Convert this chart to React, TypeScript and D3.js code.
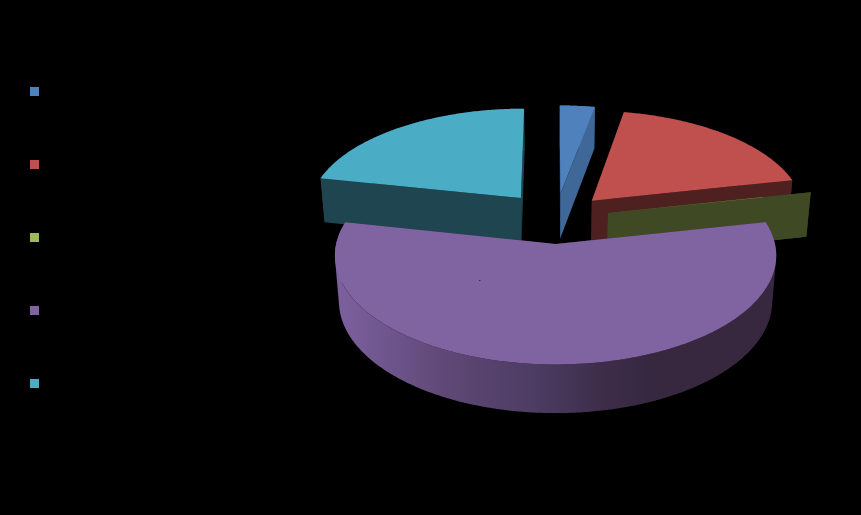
import React from "react";
import * as d3 from "d3";

const categories = ["A", "B", "C", "D", "E"];
const shares = [2.95, 18.67, 0.03, 56.65, 21.7];
const explosion = [52, 53, 54, 52, 56];
const topColors = ["#4f81bd", "#c0504d", "#9bbb59", "#8064a2", "#4bacc6"];
const wallColors = ["#3f6797", "#4e2120", "#3f4923", "#372840", "#1e4550"];
const purpleStops: [number, string][] = [
  [0, "#7d619e"], [0.1, "#715790"], [0.25, "#5f4876"], [0.45, "#4d3c63"], [0.62, "#3c2c48"], [0.72, "#372840"], [1, "#372840"],
];
const paintOrder = [0, 4, 1, 2, 3];

const W = 861, H = 515;
const cx = 555.5, cy = 218.5, radius = 214, tilt = 0.479, persp = 0.000477, persZ = 0.018, depth = 46;

function project(x: number, v: number, z: number): [number, number] {
  const f = 1 / (1 + persp * v + persZ * z);
  return [cx + x * f, cy - v * tilt * f + z * depth * f];
}

export default function App() {
  const arcs = d3.pie<number>().sort(null)(shares);
  const legendY = d3.scalePoint<string>().domain(categories).range([91.5, 383.5]);
  const line = d3.line().curve(d3.curveLinear);

  const slices = arcs.map((a, i) => {
    const mid = (a.startAngle + a.endAngle) / 2;
    const ox = explosion[i] * Math.sin(mid);
    const ov = explosion[i] * Math.cos(mid);
    const rim = (th: number, z: number) => project(ox + radius * Math.sin(th), ov + radius * Math.cos(th), z);
    const apex = (z: number) => project(ox, ov, z);
    const n = Math.max(2, Math.ceil((a.endAngle - a.startAngle) / 0.01));
    const ths = d3.range(n + 1).map((k) => a.startAngle + ((a.endAngle - a.startAngle) * k) / n);
    const top = [apex(0), ...ths.map((t) => rim(t, 0))];
    const startWall = [apex(0), rim(a.startAngle, 0), rim(a.startAngle, 1), apex(1)];
    const endWall = [apex(0), rim(a.endAngle, 0), rim(a.endAngle, 1), apex(1)];
    // the outer wall is one path of small quads, all wound the same way, so that the silhouette includes the tangents
    const outer = d3.range(n)
      .map((k) => {
        const q = [rim(ths[k], 0), rim(ths[k + 1], 0), rim(ths[k + 1], 1), rim(ths[k], 1)] as [number, number][];
        return d3.polygonArea(q) < 0 ? q.reverse() : q;
      })
      .map((q) => line(q) + "Z")
      .join("");
    return { i, top, startWall, endWall, outer };
  });

  return (
    <svg width={W} height={H} style={{ position: "absolute", left: 0, top: 0, display: "block" }}>
      <defs>
        <linearGradient id="purpleWall" gradientUnits="userSpaceOnUse" x1={335} x2={776} y1={0} y2={0}>
          {purpleStops.map(([o, c]) => (
            <stop key={o} offset={o} stopColor={c} />
          ))}
        </linearGradient>
      </defs>
      <rect width={W} height={H} fill="#000" />
      {paintOrder.map((idx) => {
        const s = slices[idx];
        const wall = wallColors[idx];
        return (
          <g key={idx}>
            <path d={line(s.startWall as [number, number][])! + "Z"} fill={wall} />
            <path d={line(s.endWall as [number, number][])! + "Z"} fill={wall} />
            <path d={s.outer} fill={idx === 3 ? "url(#purpleWall)" : wall} />
            <path d={line(s.top as [number, number][])! + "Z"} fill={topColors[idx]} />
          </g>
        );
      })}
      <rect x={479} y={280} width={1.5} height={1} fill="#3a2c4a" />
      {categories.map((c, i) => (
        <rect key={c} x={30} y={legendY(c)! - 4.5} width={9} height={9} fill={topColors[i]} />
      ))}
    </svg>
  );
}
